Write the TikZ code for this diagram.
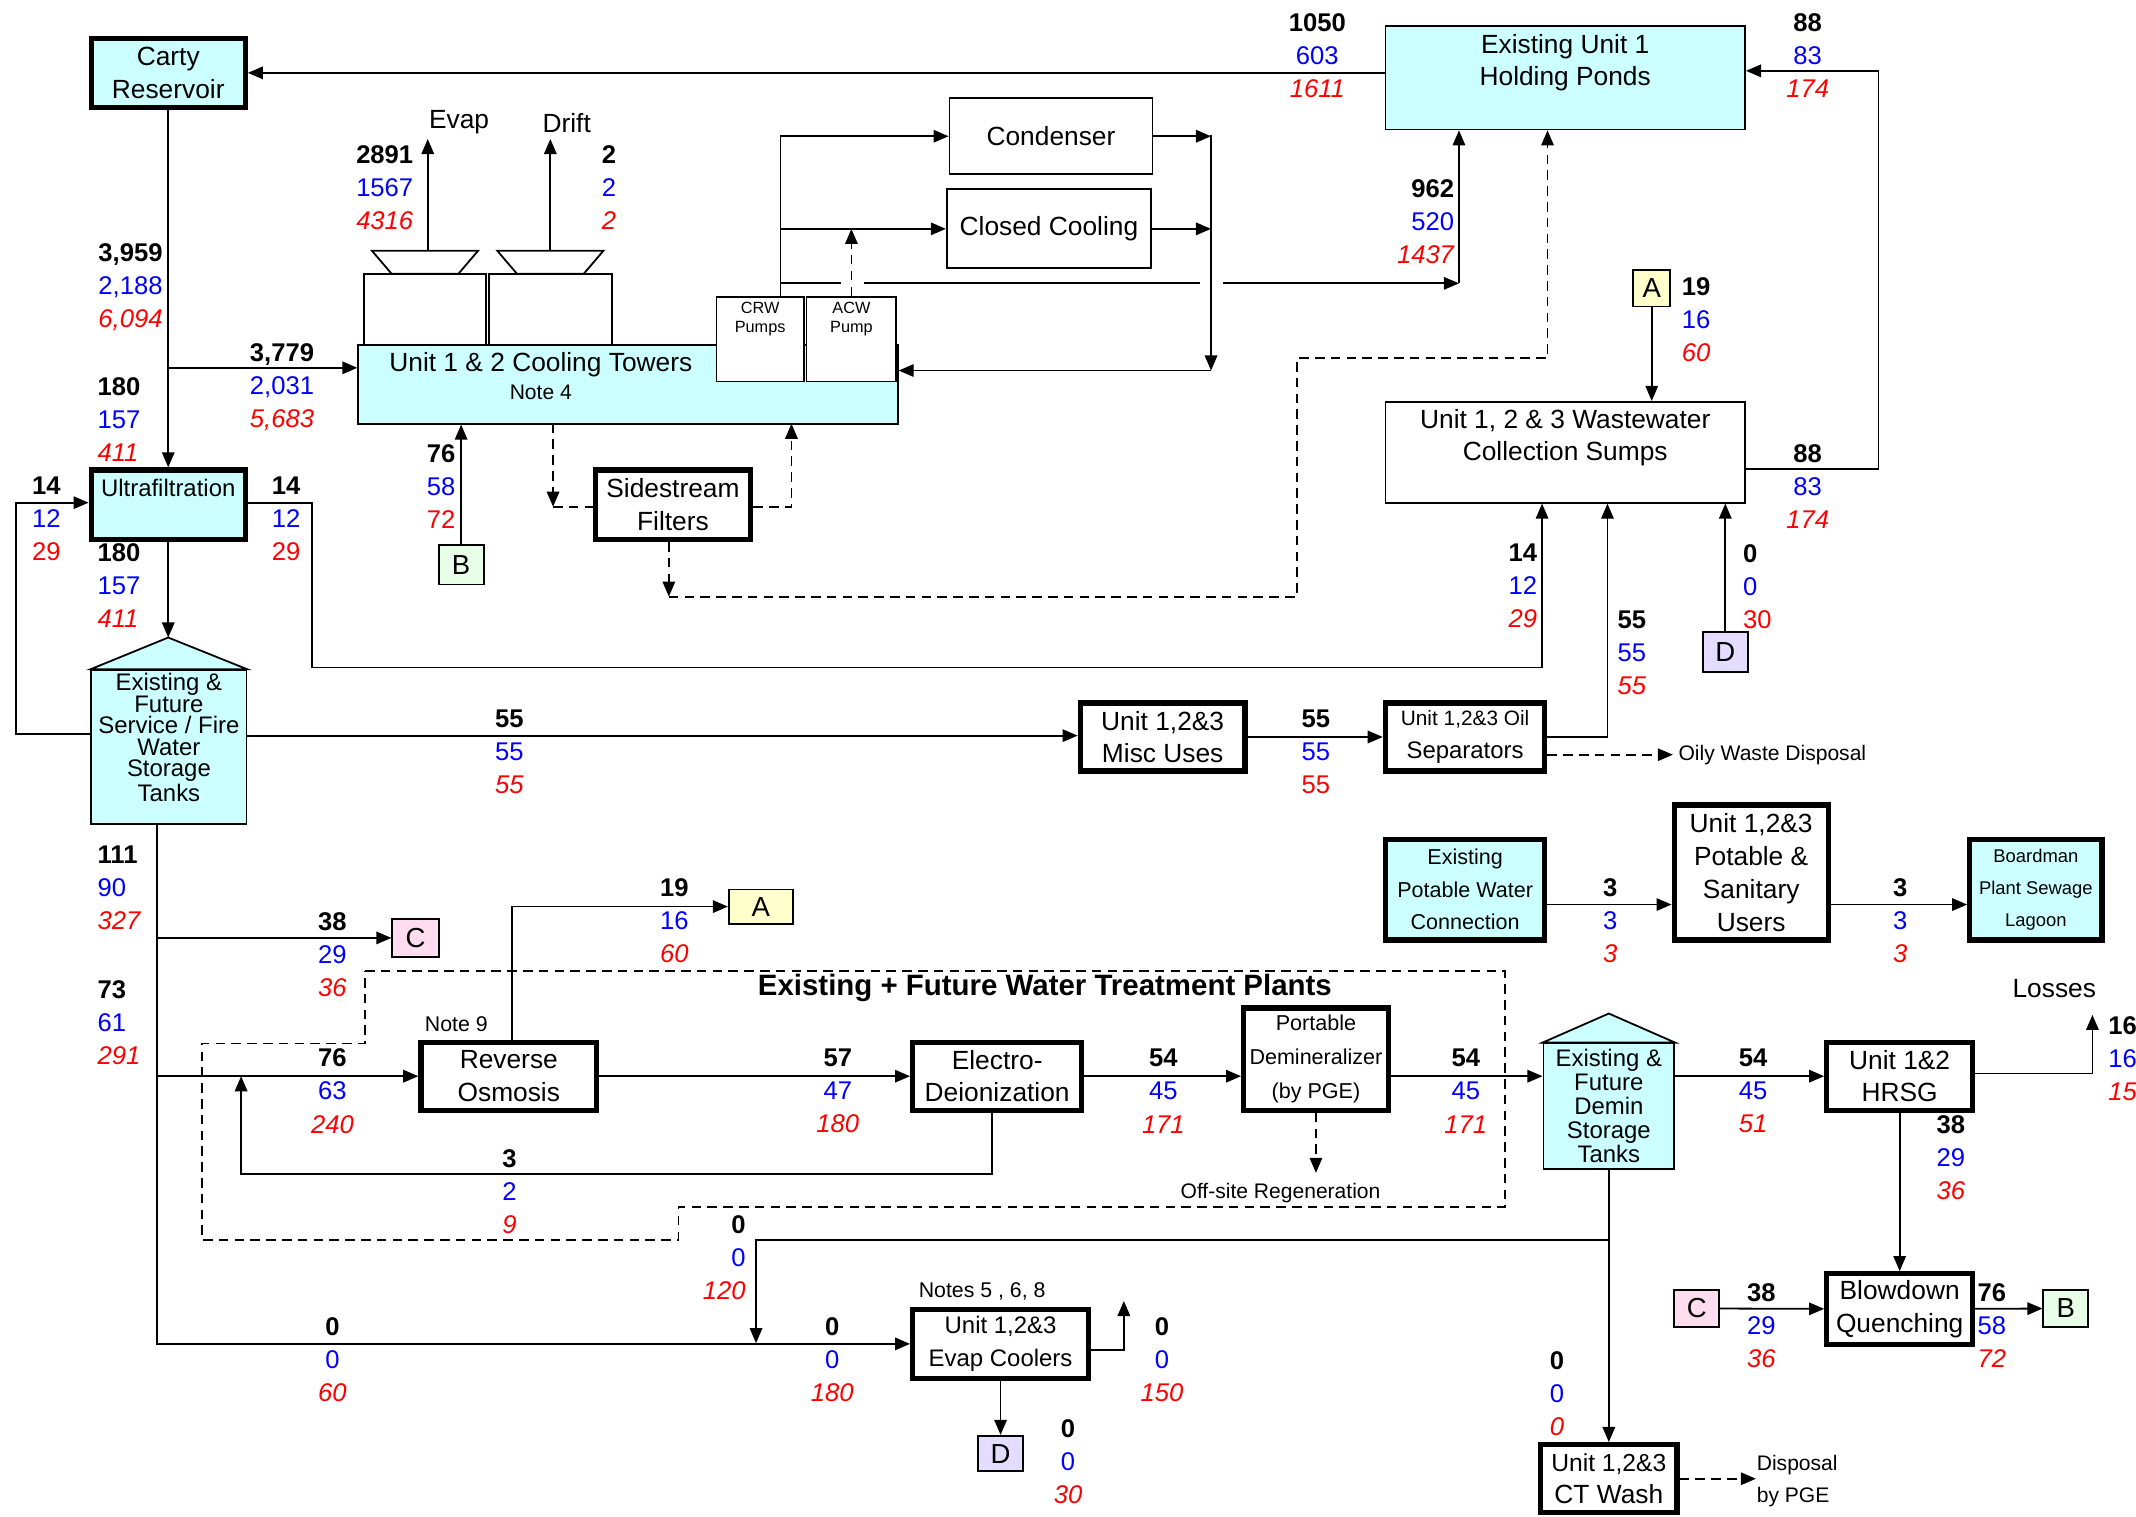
\documentclass[tikz,border=0pt]{standalone}
\usepackage{fontspec}
\setmainfont{Liberation Sans}
\usepackage{xcolor}
\usetikzlibrary{positioning,arrows.meta,calc}

\definecolor{tankcyan}{HTML}{CCFFFF}
\definecolor{tagyellow}{HTML}{FFFFCC}
\definecolor{taggreen}{HTML}{E6FFE6}
\definecolor{tagpink}{HTML}{FFDDEE}
\definecolor{taglilac}{HTML}{E5DDFF}
\definecolor{flowblue}{HTML}{0000FF}
\definecolor{flowred}{HTML}{FF0000}

\newcommand{\fsz}[2]{\fontsize{#1}{#2}\selectfont}
% flow triple: black / blue / red
\newcommand{\flow}[6][align=center]{%
  \node[flowlbl,#1] (#2) at (#3) {\textbf{#4}\\\textcolor{flowblue}{#5}\\\textcolor{flowred}{\itshape #6}};}

\tikzset{wh/.style 2 args={minimum width=#1*0.02cm, minimum height=#2*0.02cm}}

\begin{document}
\begin{tikzpicture}[
    x=0.02cm, y=-0.02cm,
    font=\fsz{11}{13.5},
    line width=0.75pt,
    box/.style={draw, line width=0.75pt, inner sep=0pt, align=center, fill=white},
    hbox/.style={box, line width=2.2pt},
    tag/.style={draw, line width=0.75pt, inner sep=0pt, font=\fsz{11.5}{13}},
    txt/.style={inner sep=0pt, align=center},
    flowlbl/.style={inner sep=0pt, font=\fsz{10.7}{13.8}},
    flowR/.style={anchor=east, align=right},
    flowL/.style={anchor=west, align=left},
    arr/.style={-{Triangle[length=6.3pt,width=5.2pt]}},
    dline/.style={dash pattern=on 4pt off 2.6pt},
    darr/.style={arr, dline}
]
\useasboundingbox (0,0) rectangle (1568,1113);

% top row
\node[hbox, wh={113}{51}, fill=tankcyan] (carty) at (123.5,53.5) {Carty\\Reservoir};
\node[box, wh={264}{76}, fill=tankcyan] (ponds) at (1149,57) {};
\node[txt] (pondslbl) at (1149,46) {Existing Unit 1\\Holding Ponds};
\node[box, wh={264}{74}] (sumps) at (1149,332) {};
\node[txt] (sumpslbl) at (1149,321.5) {Unit 1, 2 \& 3 Wastewater\\Collection Sumps};

% cooling towers
\node[box, wh={396}{58}, fill=tankcyan] (coolt) at (461,282) {};
\node[txt] (cooltlbl) at (397,268) {Unit 1 \& 2 Cooling Towers};
\node[txt, font=\fsz{8.8}{10}] (cooltnote) at (397,288) {Note 4};
\node[box, wh={90}{52}] (cell1) at (312,227) {};
\node[box, wh={90}{52}] (cell2) at (404,227) {};
\draw[fill=white] (287.5,201) -- (273,184) -- (351,184) -- (336.5,201) -- cycle;
\draw[fill=white] (379.5,201) -- (365,184) -- (443,184) -- (428.5,201) -- cycle;
\coordinate (fan1) at (314,184);
\coordinate (fan2) at (404,184);
\node (evaplbl) at (337,90) {Evap};
\node (driftlbl) at (416,90) {Drift};
\node[box, wh={64}{62}] (crw) at (558,249) {};
\node[box, wh={66}{62}] (acw) at (625,249) {};
\node[txt, font=\fsz{6.8}{8}] (crwlbl) at (558,234) {CRW\\Pumps};
\node[txt, font=\fsz{6.8}{8}] (acwlbl) at (625,234) {ACW\\Pump};
\coordinate (crwtop) at (573,218);
\coordinate (ret) at (889,272);

\node[box, wh={149}{56}] (cond) at (771.5,100) {Condenser};
\node[box, wh={150}{58}] (clc) at (770,168) {Closed Cooling};
\node[hbox, wh={114}{51}] (sidef) at (494,370.5) {Sidestream\\Filters};
\node[tag, wh={33}{29}, fill=taggreen] (bup) at (338.5,414.5) {B};

% ultrafiltration and service water
\node[hbox, wh={113}{51}, fill=tankcyan] (uf) at (123.5,370.5) {};
\node[txt, font=\fsz{10}{12}] (uflbl) at (123.5,358) {Ultrafiltration};
\node[box, wh={114}{113}, fill=tankcyan] (svc) at (124,548.5) {};
\coordinate (svcpeak) at (123.5,468);
\draw[fill=tankcyan] (svc.north west) -- (svcpeak) -- (svc.north east) -- cycle;
\node[txt, font=\fsz{10}{9}] (svclbl) at (124,541.5) {Existing \&\\Future\\Service / Fire\\Water\\Storage\\Tanks};

\node[hbox, wh={121}{50}] (misc) at (853.5,541) {Unit 1,2\&3\\Misc Uses};
\node[hbox, wh={117}{50}] (oil) at (1075.5,541) {{\fsz{8.7}{10}Unit 1,2\&3 Oil}\\{\fsz{10}{12}Separators}};
\node[anchor=west, inner sep=2pt, font=\fsz{8.8}{10}] (oily) at (1228,554) {Oily Waste Disposal};
\node[tag, wh={27}{27}, fill=tagyellow] (aup) at (1212.5,211.5) {A};
\node[tag, wh={33}{29}, fill=taglilac] (dup) at (1266.5,478.5) {D};

% potable water
\node[hbox, wh={117}{74}, fill=tankcyan, font=\fsz{9}{13.6}] (potw) at (1075.5,653) {Existing\\Potable Water\\Connection};
\node[hbox, wh={113}{99}, font=\fsz{11}{13.9}] (users) at (1285.5,640.5) {Unit 1,2\&3\\Potable \&\\Sanitary\\Users};
\node[hbox, wh={97}{74}, fill=tankcyan, font=\fsz{7.7}{13.5}] (lagoon) at (1494.5,653) {Boardman\\Plant Sewage\\Lagoon};

% water treatment
\draw[dline] (268,713) -- (1105,713) -- (1105,886) -- (498,886) -- (498,910) -- (148,910) -- (148,766) -- (268,766) -- cycle;
\node[font=\fsz{12.3}{14}\bfseries] (wtp) at (767,725) {Existing + Future Water Treatment Plants};
\node[tag, wh={34}{28}, fill=tagpink] (cup) at (305,688.5) {C};
\node[tag, wh={47}{25}, fill=tagyellow] (alow) at (558.5,665.5) {A};
\node[hbox, wh={129}{50}] (ro) at (373.5,790) {Reverse\\Osmosis};
\node[font=\fsz{8.9}{10}] (note9) at (335,752) {Note 9};
\node[hbox, wh={124}{50}] (edi) at (732,790) {Electro-\\Deionization};
\node[hbox, wh={106}{75}, font=\fsz{9}{14.2}] (demin) at (966,777.5) {Portable\\Demineralizer\\(by PGE)};
\node[font=\fsz{8.8}{10}] (regen) at (940,876) {Off-site Regeneration};

\node[box, wh={96}{92}, fill=tankcyan, font=\fsz{10}{10}] (dtank) at (1181,812) {Existing \&\\Future\\Demin\\Storage\\Tanks};
\draw[fill=tankcyan] (dtank.north west) -- (1181,744) -- (dtank.north east) -- cycle;
\node[hbox, wh={107}{50}] (hrsg) at (1394.5,790) {Unit 1\&2\\HRSG};
\node (losses) at (1508,726) {Losses};
\node[hbox, wh={107}{52}] (bd) at (1394.5,961) {Blowdown\\Quenching};
\node[tag, wh={33}{27}, fill=tagpink] (clow) at (1245.5,960.5) {C};
\node[tag, wh={33}{27}, fill=taggreen] (blow) at (1516.5,960.5) {B};
\node[hbox, wh={129}{51}, font=\fsz{10}{13.5}] (evap) at (734.5,986.5) {Unit 1,2\&3\\Evap Coolers};
\node[font=\fsz{8.9}{10}] (notes) at (721,948) {Notes 5 , 6, 8};
\node[tag, wh={33}{26}, fill=taglilac] (dlow) at (734.5,1067) {D};
\node[hbox, wh={100}{50}] (ctw) at (1181,1085.5) {{\fsz{10.3}{12}Unit 1,2\&3}\\CT Wash};
\node[txt, anchor=west, align=left, font=\fsz{8.8}{13.2}] (disp) at (1289,1087) {Disposal\\by PGE};

% connectors, upper part
\draw[arr] (ponds.west |- carty.east) -- (carty.east);
\draw[arr] (sumps.east |- 0,344) -| (1379,200) |- (ponds.east |- 0,52);
\draw[arr] (carty) -- (uf);
\draw[arr] (123.5,270) -- (coolt.west |- 0,270);
\draw[arr] (fan1) -- (314,102);
\draw[arr] (fan2) -- (404,102);
\draw[arr] (crwtop) |- (cond.west);
\draw[arr] (573,168) -- (clc.west);
\draw[darr] (acw.north) -- (625,168);
\draw (573,208) -- (617,208) (634,208) -- (881,208);
\draw[arr] (898,208) -- (1071,208);
\draw[arr] (1071,208) -- (ponds.south -| 1071,0);
\draw[arr] (cond.east) -- (889,100);
\draw[arr] (clc.east) -- (889,168);
\draw[arr] (889,99) -- (ret);
\draw[arr] (ret) -- (coolt.east |- ret);
\draw[darr] (406,311) -- (406,372);
\draw[dline] (406,372) -- (sidef.west |- 0,372);
\draw[darr] (sidef.east |- 0,372) -- (581,372) -- (581,311);
\draw[arr] (bup) -- (bup |- coolt.south);
\draw[darr] (sidef.south -| 491,0) -- (491,438);
\draw[darr] (491,438) -| (952,263) -| (ponds.south -| 1136,0);
\draw[arr] (aup) -- (aup |- sumps.north);
\draw[arr] (uf.east |- 0,369) -- (229,369) |- (1132,490) -- (sumps.south -| 1132,0);
\draw[arr] (svc.west |- 0,539) -- (12,539) |- (uf.west |- 0,369);
\draw[arr] (uf.south) -- (svcpeak);
\draw[arr] (svc.east |- 0,540) -- (misc.west |- 0,540);
\draw[arr] (misc) -- (oil);
\draw[arr] (oil.east) -| (sumps.south -| 1180,0);
\draw[darr] (oil.east |- 0,554) -- (oily.west);
\draw[arr] (dup) -- (dup |- sumps.south);
\draw[arr] (potw.east |- 0,664) -- (users.west |- 0,664);
\draw[arr] (users.east |- 0,664) -- (lagoon.west |- 0,664);

% connectors, lower part
\draw[arr] (svc.south -| 115,0) |- (evap.west);
\draw[arr] (cup.west -| 115,0) -- (cup.west);
\draw[arr] (ro.west -| 115,0) -- (ro.west);
\draw[arr] (ro.north -| 376,0) |- (alow);
\draw[arr] (ro) -- (edi);
\draw[arr] (edi.south -| 728,0) |- (177,862) -- (177,790);
\draw[arr] (edi.east) -- (demin.west |- edi.east);
\draw[darr] (demin.south) -- (966,861);
\draw[arr] (demin.east |- edi.east) -- (dtank.west |- edi.east);
\draw[arr] (dtank.east |- hrsg.west) -- (hrsg.west);
\draw[arr] (hrsg.east |- 0,788) -| (1536,745);
\draw[arr] (hrsg) -- (bd);
\draw[arr] (clow) -- (bd);
\draw[arr] (bd) -- (blow);
\draw[arr] (dtank.south) -- (dtank.south |- ctw.north);
\draw[arr] (1181,910) -| (555,986);
\draw[arr] (evap.east |- 0,991) -| (825,955);
\draw[arr] (evap) -- (dlow);
\draw[darr] (ctw.east) -- (disp.west |- ctw.east);

% flow values
\flow{qponds}{967,41}{1050}{603}{1611}
\flow{qreturn}{1327,41}{88}{83}{174}
\flow[flowR]{qcirc}{1068,163}{962}{520}{1437}
\flow[flowR]{qcarty}{120,211}{3,959}{2,188}{6,094}
\flow[flowR]{qevap}{304,138}{2891}{1567}{4316}
\flow{qdrift}{447,138}{2}{2}{2}
\flow{qmakeup}{207,284}{3,779}{2,031}{5,683}
\flow[flowL]{qufin}{71,308}{180}{157}{411}
\flow[flowR]{qbct}{335,357}{76}{58}{{\upshape 72}}
\flow{qufback}{34,381}{14}{12}{{\upshape 29}}
\flow{qufrej}{210,381}{14}{12}{{\upshape 29}}
\flow[flowL]{qufout}{71,430}{180}{157}{411}
\flow[flowL]{qasump}{1234,235}{19}{16}{60}
\flow{qsumpout}{1327,357}{88}{83}{174}
\flow[flowR]{qufsump}{1129,430}{14}{12}{29}
\flow{qoilsump}{1198,479}{55}{55}{55}
\flow[flowL]{qdsump}{1279,431}{0}{0}{{\upshape 30}}
\flow{qmisc}{374,552}{55}{55}{55}
\flow{qoil}{966,552}{55}{55}{{\upshape 55}}
\flow[flowL]{qtank}{71,652}{111}{90}{327}
\flow{qcup}{244,701}{38}{29}{36}
\flow{qalow}{495,676}{19}{16}{60}
\flow[flowL]{qwtp}{71,751}{73}{61}{291}
\flow{qro}{244,801}{76}{63}{240}
\flow{qedi}{615,801}{57}{47}{180}
\flow{qdemin}{854,801}{54}{45}{171}
\flow{qdtank}{1076,801}{54}{45}{171}
\flow{qrecyc}{374,875}{3}{2}{9}
\flow{qhrsg}{1287,801}{54}{45}{51}
\flow[flowL]{qloss}{1547,777}{16}{16}{15}
\flow[flowL]{qhrsgbd}{1421,850}{38}{29}{36}
\flow{qcbd}{1293,973}{38}{29}{36}
\flow[flowL]{qbdb}{1451,973}{76}{58}{72}
\flow[flowR]{qdemevap}{548,923}{0}{0}{120}
\flow{qevapin}{244,998}{0}{0}{60}
\flow{qevapfeed}{611,998}{0}{0}{180}
\flow{qevapout}{853,998}{0}{0}{150}
\flow{qevapd}{784,1073}{0}{0}{30}
\flow{qctw}{1143,1023}{0}{0}{0}
\flow{qpot}{1182,676}{3}{3}{3}
\flow{qsan}{1395,676}{3}{3}{3}

\end{tikzpicture}
\end{document}
